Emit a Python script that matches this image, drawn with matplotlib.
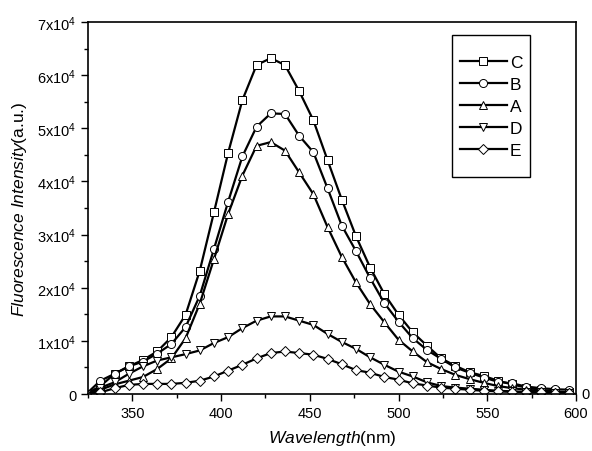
#!/usr/bin/env python3
import matplotlib
matplotlib.use("Agg")
import matplotlib.pyplot as plt
from matplotlib.patches import Rectangle
from matplotlib.ticker import MultipleLocator, FuncFormatter

plt.rcParams["font.family"] = ["Liberation Sans", "DejaVu Sans"]
plt.rcParams["mathtext.fontset"] = "custom"
plt.rcParams["mathtext.rm"] = "Liberation Sans"
plt.rcParams["mathtext.it"] = "Liberation Sans:italic"

# wavelength (nm), marker positions every 8 nm
wavelength = [324, 332, 340, 348, 356, 364, 372, 380, 388, 396, 404, 412, 420, 428,
              436, 444, 452, 460, 468, 476, 484, 492, 500, 508, 516, 524, 532, 540,
              548, 556, 564, 572, 580, 588, 596]

# intensities in units of 1e4
C = [0.0, 0.15, 0.38, 0.52, 0.64, 0.80, 1.07, 1.49, 2.32, 3.42, 4.54, 5.53, 6.19, 6.32,
     6.19, 5.70, 5.15, 4.40, 3.66, 2.97, 2.38, 1.88, 1.49, 1.16, 0.91, 0.67, 0.53, 0.41,
     0.34, 0.25, 0.18, 0.12, 0.08, 0.05, 0.03]
B = [0.0, 0.25, 0.38, 0.52, 0.61, 0.76, 0.94, 1.26, 1.85, 2.73, 3.62, 4.47, 5.03, 5.28,
     5.27, 4.86, 4.55, 3.87, 3.17, 2.69, 2.18, 1.71, 1.36, 1.05, 0.83, 0.66, 0.50, 0.40,
     0.31, 0.23, 0.20, 0.14, 0.11, 0.09, 0.08]
A = [0.0, 0.08, 0.18, 0.25, 0.32, 0.47, 0.67, 1.05, 1.70, 2.54, 3.39, 4.11, 4.67, 4.74,
     4.58, 4.17, 3.76, 3.14, 2.58, 2.10, 1.69, 1.35, 1.02, 0.80, 0.60, 0.47, 0.36, 0.28,
     0.21, 0.15, 0.11, 0.08, 0.06, 0.04, 0.03]
D = [0.0, 0.12, 0.22, 0.38, 0.52, 0.63, 0.69, 0.75, 0.82, 0.96, 1.07, 1.24, 1.38, 1.46,
     1.46, 1.38, 1.30, 1.13, 0.98, 0.85, 0.69, 0.55, 0.42, 0.33, 0.22, 0.15, 0.12, 0.10,
     0.08, 0.06, 0.05, 0.04, 0.03, 0.02, 0.02]
E = [0.0, 0.03, 0.11, 0.17, 0.19, 0.19, 0.19, 0.21, 0.25, 0.33, 0.44, 0.55, 0.67, 0.77,
     0.80, 0.77, 0.74, 0.66, 0.56, 0.45, 0.40, 0.32, 0.27, 0.20, 0.16, 0.12, 0.10, 0.08,
     0.06, 0.05, 0.04, 0.03, 0.03, 0.02, 0.02]

series = [("C", C, "s", 5.2), ("B", B, "o", 5.8), ("A", A, "^", 6.2),
          ("D", D, "v", 6.2), ("E", E, "D", 4.8)]

fig = plt.figure(figsize=(5.92, 4.52), dpi=100)
ax = fig.add_axes([0.1486, 0.1261, 0.8244, 0.8230])

for label, vals, marker, ms in series:
    ys = [v * 1e4 for v in vals]
    ax.plot(wavelength, ys, color="black", lw=1.6, marker=marker, ms=ms,
            mfc="white", mec="black", mew=0.7, label=label)

ax.set_xlim(325, 600)
ax.set_ylim(0, 70000)
ax.xaxis.set_major_locator(MultipleLocator(50))
ax.xaxis.set_minor_locator(MultipleLocator(25))
ax.yaxis.set_major_locator(MultipleLocator(10000))
ax.yaxis.set_minor_locator(MultipleLocator(5000))


def fmt_y(v, pos):
    k = int(round(v / 1e4))
    if k == 0:
        return "0"
    return f"{k}x10$^{{4}}$"


ax.yaxis.set_major_formatter(FuncFormatter(fmt_y))
ax.tick_params(which="both", direction="out", top=False, right=False,
               labelsize=10.5, width=1)
ax.tick_params(which="major", length=5)
ax.tick_params(which="minor", length=3)
for s in ax.spines.values():
    s.set_linewidth(1.2)

ax.text(1.012, 0, "0", transform=ax.transAxes, ha="left", va="center", fontsize=10.5)

ax.set_xlabel(r"$\mathit{Wavelength}$(nm)", fontsize=12.5, labelpad=6)
ax.set_ylabel(r"$\mathit{Fluorescence\ Intensity}$(a.u.)", fontsize=12.5, labelpad=6)

# legend without its own frame; box drawn separately (taller than wide padding)
ax.legend(loc="center", bbox_to_anchor=(0.826, 0.773), fontsize=12.5,
          handlelength=2.7, handletextpad=0.2, labelspacing=0.4,
          borderpad=0.3, frameon=False)
ax.add_patch(Rectangle((0.746, 0.583), 0.160, 0.382, transform=ax.transAxes,
                       fill=False, edgecolor="black", lw=1.0, zorder=5))

fig.savefig("out.png", dpi=100)
